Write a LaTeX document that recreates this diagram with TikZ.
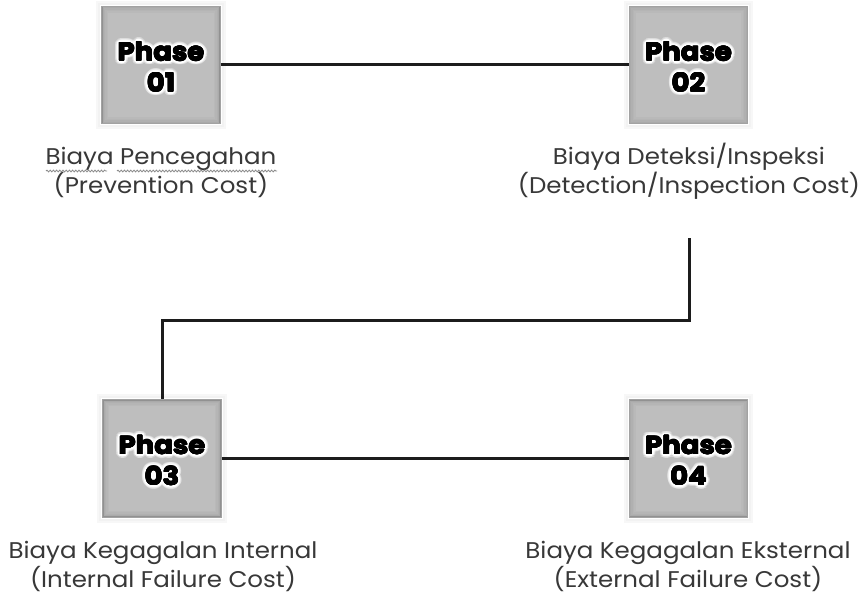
\documentclass[tikz,border=0pt]{standalone}
\usepackage{fontspec}
\setmainfont{Poppins}[FakeStretch=1.08]
\usetikzlibrary{calc,decorations.pathmorphing}

\definecolor{boxfill}{HTML}{BEBEBE}
\definecolor{boxedge}{HTML}{A2A2A2}
\definecolor{ink}{HTML}{1C1C1C}
\definecolor{labelgray}{HTML}{383838}
\definecolor{squiggle}{HTML}{8A8A8A}

\tikzset{
  phasebox/.style={minimum width=118pt, minimum height=117pt, inner sep=0pt,
    fill=boxfill, draw=boxedge, line width=1.2pt},
  phasetext/.style={align=center, inner sep=0pt,
    font=\bfseries\fontsize{25.5}{31}\selectfont},
  link/.style={draw=ink, line width=3pt},
  costlabel/.style={align=center, inner sep=0pt, anchor=base, text=labelgray,
    font=\fontsize{22.7}{28.5}\selectfont},
  spell/.style={draw=squiggle, line width=0.8pt, decorate,
    decoration={snake, amplitude=0.9pt, segment length=3.2pt}}
}

% soft inner shading along the edges of a phase box
\newcommand\boxshade[1]{%
  \foreach \d/\o in {1.5/0.10,3/0.07,4.5/0.045,6/0.025}
    \draw[black, opacity=\o, line width=1.5pt]
      ($(#1.north west)+(\d,\d)$) rectangle ($(#1.south east)-(\d,\d)$);
  \foreach \d/\o in {2/0.05,4/0.03}
    \draw[black, opacity=\o, line width=2pt]
      ($(#1.north west)-(\d,\d)$) rectangle ($(#1.south east)+(\d,\d)$);
}

% heavy title with a white halo: box name, title node name, number
\newcommand\phasetitle[3]{%
  \coordinate (#2c) at ($(#1)+(0,2)$);
  \foreach \a in {0,20,...,340}{
    \node[phasetext, text=white, opacity=0.30] at ($(#2c)+(\a:4pt)$) {Phase\\#3};
    \node[phasetext, text=white] at ($(#2c)+(\a:2.2pt)$) {Phase\\#3};
  }
  \foreach \a in {0,45,...,315}
    \node[phasetext, text=black] at ($(#2c)+(\a:0.45pt)$) {Phase\\#3};
  \node[phasetext, text=black] (#2) at (#2c) {Phase\\#3};
}

\begin{document}
\begin{tikzpicture}[x=1pt, y=-1pt]
  \useasboundingbox[fill=white] (0,0) rectangle (866,596);

  \coordinate (drop) at (689,238);
  \coordinate (bend) at (689,320);

  % phase boxes
  \node[phasebox] (p1) at (161,65) {};
  \node[phasebox] (p2) at (688.5,65) {};
  \node[phasebox] (p3) at (162,458.5) {};
  \node[phasebox] (p4) at (688.5,458.5) {};

  % connectors
  \draw[link] (p1.east) -- (p2.west);
  \draw[link] (drop) -- (bend) -| (p3.north);
  \draw[link] (p3.east) -- (p4.west);

  \boxshade{p1}
  \boxshade{p2}
  \boxshade{p3}
  \boxshade{p4}

  \phasetitle{p1}{t1}{01}
  \phasetitle{p2}{t2}{02}
  \phasetitle{p3}{t3}{03}
  \phasetitle{p4}{t4}{04}

  % cost labels (base anchor sits on the second line)
  \node[costlabel] (l1) at (161,193) {Biaya Pencegahan\\(Prevention Cost)};
  \node[costlabel] (l2) at (689,193) {Biaya Deteksi/Inspeksi\\(Detection/Inspection Cost)};
  \node[costlabel] (l3) at (163,587) {Biaya Kegagalan Internal\\(Internal Failure Cost)};
  \node[costlabel] (l4) at (688,587) {Biaya Kegagalan Eksternal\\(External Failure Cost)};

  % spell-check squiggles under the first label line
  \draw[spell] (46,171) -- (107,171);
  \draw[spell] (117,171) -- (277,171);
\end{tikzpicture}
\end{document}
